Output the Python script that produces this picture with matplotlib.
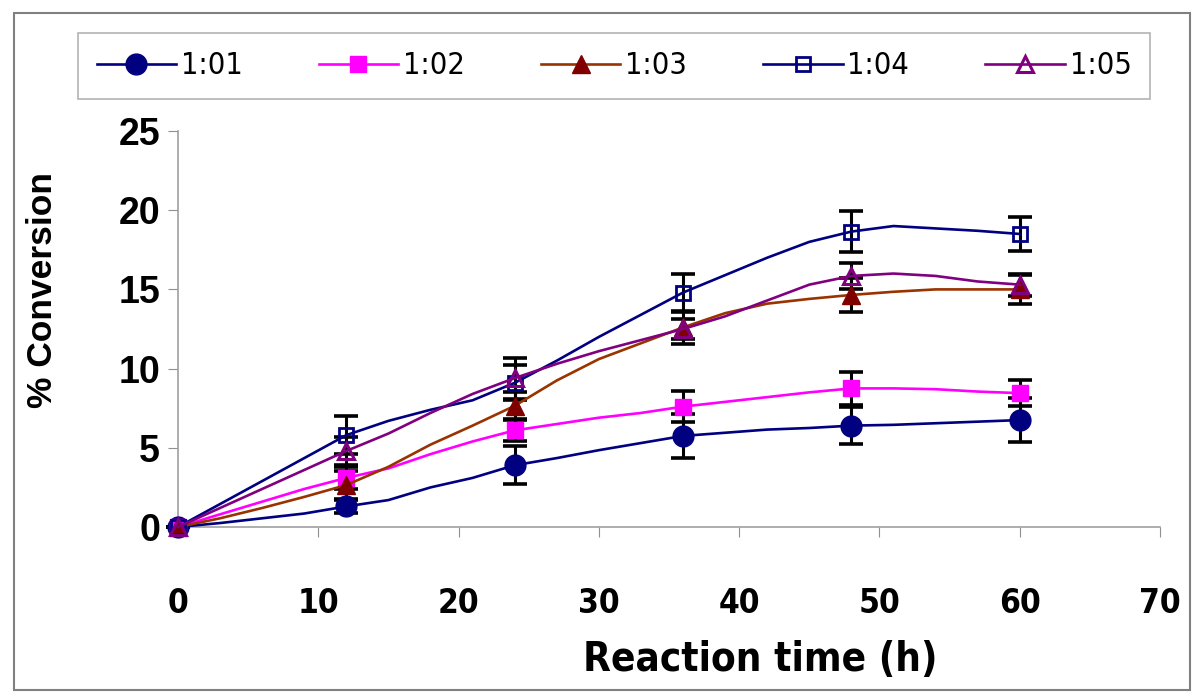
import numpy as np
import matplotlib.pyplot as plt
from matplotlib import font_manager as fm
from matplotlib.patches import Rectangle

# curve vertices (smoothed lines), every 3 h
t_line = [0, 3, 6, 9, 12, 15, 18, 21, 24, 27, 30, 33, 36, 39, 42, 45, 48, 51, 54, 57, 60]
y101 = [0, 0.25, 0.55, 0.85, 1.3, 1.7, 2.5, 3.1, 3.9, 4.35, 4.85, 5.3, 5.75, 5.95, 6.15, 6.25, 6.4, 6.45, 6.55, 6.65, 6.75]
y102 = [0, 0.8, 1.6, 2.4, 3.1, 3.7, 4.6, 5.4, 6.1, 6.5, 6.9, 7.2, 7.6, 7.9, 8.2, 8.5, 8.75, 8.75, 8.7, 8.55, 8.45]
y103 = [0, 0.55, 1.2, 1.9, 2.65, 3.8, 5.2, 6.4, 7.65, 9.25, 10.6, 11.6, 12.6, 13.5, 14.1, 14.4, 14.65, 14.85, 15.0, 15.0, 15.0]
y104 = [0, 1.45, 2.9, 4.35, 5.8, 6.7, 7.4, 8.0, 9.1, 10.5, 12.0, 13.4, 14.8, 15.9, 17.0, 18.0, 18.65, 19.0, 18.85, 18.7, 18.5]
y105 = [0, 1.2, 2.4, 3.6, 4.8, 5.9, 7.2, 8.4, 9.4, 10.3, 11.1, 11.8, 12.5, 13.3, 14.3, 15.3, 15.85, 16.0, 15.85, 15.5, 15.3]

# measured points (h) and error bars
t_pts = [0, 12, 24, 36, 48, 60]
e101 = [0, 0.4, 1.2, 1.4, 1.15, 1.4]
e102 = [0, 0.7, 0.7, 1.0, 1.05, 0.8]
e103 = [0, 0.9, 0.9, 1.05, 1.1, 0.9]
e104 = [0, 1.2, 1.1, 1.2, 1.3, 1.1]
e105 = [0, 0.9, 1.3, 0.6, 0.8, 0.7]

labels = ['1:01', '1:02', '1:03', '1:04', '1:05']
xticks = [0, 10, 20, 30, 40, 50, 60, 70]
yticks = [0, 5, 10, 15, 20, 25]


# look for a condensed font file (Arial Narrow look-alike)
def find_font(keys):
    for f in sorted(fm.findSystemFonts()):
        name = f.split('/')[-1].lower()
        if all(k in name for k in keys):
            return f
    return None


nb = find_font(['liberationsansnarrow', 'bold']) or find_font(['dejavusanscondensed', 'bold'])
nr = find_font(['liberationsansnarrow-regular']) or find_font(['dejavusanscondensed.ttf'])


def narrow_prop(size, bold):
    path = nb if bold else nr
    if path:
        return fm.FontProperties(fname=path, size=size)
    # no condensed face: shrink the normal one so widths fit
    return fm.FontProperties(family='Liberation Sans', weight='bold' if bold else 'normal',
                             size=size * 0.9)


wide = ['Liberation Sans', 'DejaVu Sans']

series = [
    (y101, e101, dict(color='#000080', marker='o', ms=15, mfc='#000080', mec='#000080')),
    (y102, e102, dict(color='#FF00FF', marker='s', ms=11, mfc='#FF00FF', mec='#FF00FF')),
    (y103, e103, dict(color='#993300', marker='^', ms=13, mfc='#800000', mec='#800000')),
    (y104, e104, dict(color='#000080', marker='s', ms=10, mfc='none', mec='#000080', mew=2)),
    (y105, e105, dict(color='#800080', marker='^', ms=12, mfc='none', mec='#800080', mew=2.2)),
]
mark_idx = [t_line.index(t) for t in t_pts]

fig = plt.figure(figsize=(12, 6.97), dpi=100)
ax = fig.add_axes([178/1200, 1-527/697, (1160-178)/1200, (527-131)/697])

handles = []
for (yv, ev, st), lab in zip(series, labels):
    ypts = [yv[i] for i in mark_idx]
    ax.errorbar(t_pts, ypts, yerr=ev, fmt='none', ecolor='black', elinewidth=2.2,
                capsize=8.5, capthick=2.6, zorder=3, clip_on=False)
    ln, = ax.plot(t_line, yv, lw=1.9, markevery=mark_idx, label=lab, zorder=4,
                  clip_on=False, **st)
    handles.append(ln)

ax.set_xlim(0, 70)
ax.set_ylim(0, 25)
ax.set_xticks(xticks)
ax.set_yticks(yticks)
ax.set_xticklabels([str(v) for v in xticks], fontproperties=narrow_prop(24, True))
ax.set_yticklabels([str(v) for v in yticks], family=wide, weight='bold', fontsize=27)
ax.tick_params(axis='x', length=7, color='#909090', pad=36)
ax.tick_params(axis='y', length=7, color='#909090', pad=6)
for s in ['top', 'right']:
    ax.spines[s].set_visible(False)
for s in ['left', 'bottom']:
    ax.spines[s].set_color('#A0A0A0')
    ax.spines[s].set_linewidth(1.2)

fig.text(760/1200, 1-660/697, 'Reaction time (h)', fontproperties=narrow_prop(29, True),
         ha='center', va='center')
fig.text(42/1200, 1-290/697, '% Conversion', family=wide, weight='bold',
         fontsize=25.5, ha='center', va='center', rotation=90)

leg = fig.legend(handles=handles, labels=labels, loc='center', ncol=5, mode='expand',
                 bbox_to_anchor=(63/1200, 1-100/697, (1165-63)/1200, 68/697),
                 prop=narrow_prop(22, False), handlelength=2.6,
                 handletextpad=0.15, borderpad=0.6, fancybox=False, frameon=True)
leg.get_frame().set_edgecolor('#A0A0A0')
leg.get_frame().set_linewidth(1.2)

fig.patches.append(Rectangle((14/1200, 1-690/697), (1190-14)/1200, (690-13)/697,
                             transform=fig.transFigure, fill=False,
                             edgecolor='#808080', lw=1.5))

fig.savefig('out.png', dpi=100)
